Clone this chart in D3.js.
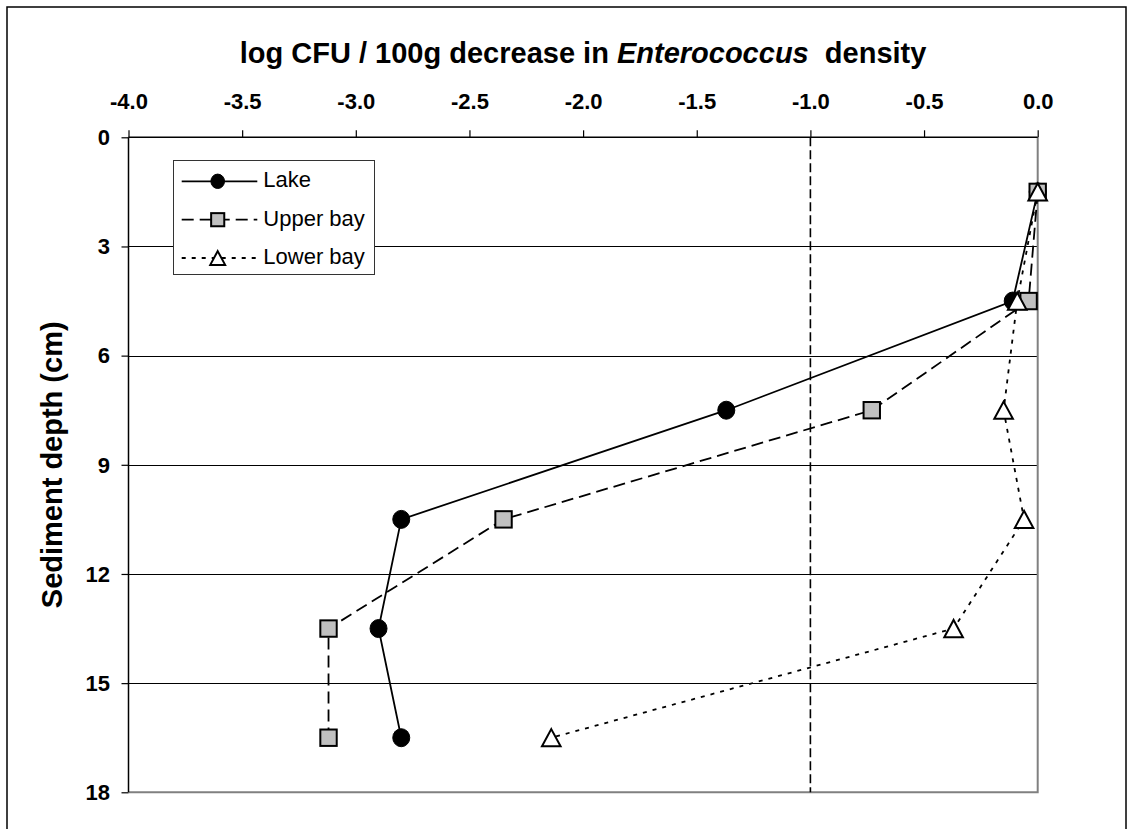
<!DOCTYPE html>
<html>
<head>
<meta charset="utf-8">
<script src="https://cdn.jsdelivr.net/npm/d3@7"></script>
<style>
  html, body { margin: 0; padding: 0; background: #fff; }
  svg { display: block; }
  text { font-family: "Liberation Sans", Arial, sans-serif; fill: #000; }
</style>
</head>
<body>
<svg id="chart" width="1131" height="829"></svg>
<script>
// ---------- data ----------
const depths = [1.5, 4.5, 7.5, 10.5, 13.5, 16.5];
const lake   = [0.0, -0.11, -1.37, -2.80, -2.90, -2.80];
const upper  = [0.0, -0.04, -0.73, -2.35, -3.12, -3.12];
const lower  = [0.0, -0.09, -0.15, -0.06, -0.37, -2.14];
const seriesNames = ["Lake", "Upper bay", "Lower bay"];
const xTicks = [-4.0, -3.5, -3.0, -2.5, -2.0, -1.5, -1.0, -0.5, 0.0];
const yTicks = [0, 3, 6, 9, 12, 15, 18];
const refLine = -1.0;
const titlePre = "log CFU / 100g decrease in ";
const titleItalic = "Enterococcus";
const titlePost = "  density";
const yTitle = "Sediment depth (cm)";

// ---------- layout ----------
const svg = d3.select("#chart");
const L = 128.5, R = 1037.7, T = 137.3, B = 792.3;
const x = d3.scaleLinear().domain([-4, 0]).range([L, R]);
const y = d3.scaleLinear().domain([0, 18]).range([T, B]);

// outer frame
svg.append("rect").attr("x", 7).attr("y", 7).attr("width", 1119).attr("height", 840)
  .attr("fill", "#fff").attr("stroke", "#000").attr("stroke-width", 1.5);

// gridlines
svg.append("g").selectAll("line").data(yTicks.filter(d => d > 0 && d < 18)).join("line")
  .attr("x1", L).attr("x2", R).attr("y1", d => Math.round(y(d)) + 0.5).attr("y2", d => Math.round(y(d)) + 0.5)
  .attr("stroke", "#000").attr("stroke-width", 1);

// plot area border (gray, right & bottom)
svg.append("path")
  .attr("d", `M${L},${B}H${R}V${T}`)
  .attr("fill", "none").attr("stroke", "#808080").attr("stroke-width", 2);

// reference dashed line at -1.0
svg.append("line")
  .attr("x1", x(refLine)).attr("x2", x(refLine)).attr("y1", y(0)).attr("y2", y(18))
  .attr("stroke", "#000").attr("stroke-width", 1.6).attr("stroke-dasharray", "9,4");

// axes
const xAxis = d3.axisTop(x).tickValues(xTicks).tickSize(7).tickSizeOuter(0).tickPadding(21)
  .tickFormat(d => d.toFixed(1));
const gx = svg.append("g").attr("transform", `translate(0,${T})`).call(xAxis);
const yAxis = d3.axisLeft(y).tickValues(yTicks).tickSize(7).tickSizeOuter(0).tickPadding(11.5)
  .tickFormat(d => String(d));
const gy = svg.append("g").attr("transform", `translate(${L},0)`).call(yAxis);
[gx, gy].forEach(g => {
  g.select(".domain").attr("stroke", "#000").attr("stroke-width", 1.5);
  g.selectAll(".tick line").attr("stroke", "#000").attr("stroke-width", 1.2);
  g.selectAll(".tick text").attr("font-family", "Liberation Sans, Arial, sans-serif")
    .attr("font-size", 22).attr("font-weight", "bold").attr("fill", "#000");
});
gx.select(".domain").attr("d", `M${L},0H${R}`);
gy.select(".domain").attr("d", `M0,${T}V${B}`);
gy.selectAll(".tick text").attr("dy", "0.33em");

// titles
const tt = svg.append("text").attr("x", (L + R) / 2).attr("y", 63)
  .attr("text-anchor", "middle").attr("font-size", 29).attr("font-weight", "bold")
  .attr("xml:space", "preserve").style("white-space", "pre");
tt.append("tspan").text(titlePre);
tt.append("tspan").attr("font-style", "italic").text(titleItalic);
tt.append("tspan").text(titlePost);

svg.append("text").attr("transform", `translate(61.5,${(T + B) / 2}) rotate(-90)`)
  .attr("text-anchor", "middle").attr("font-size", 29).attr("font-weight", "bold")
  .text(yTitle);

// ---------- series ----------
const styles = [
  { values: lake,  dash: null,  marker: "circle" },
  { values: upper, dash: "12,6", marker: "square" },
  { values: lower, dash: "4,6",  marker: "triangle" }
];

function drawMarker(g, type, cx, cy, s) {
  if (type === "circle") {
    g.append("ellipse").attr("cx", cx).attr("cy", cy).attr("rx", 8.5 * s).attr("ry", 9 * s)
      .attr("fill", "#000").attr("stroke", "#000").attr("stroke-width", 1);
  } else if (type === "square") {
    const h = 8.2 * s;
    g.append("rect").attr("x", cx - h).attr("y", cy - h).attr("width", 2 * h).attr("height", 2 * h)
      .attr("fill", "#C0C0C0").attr("stroke", "#000").attr("stroke-width", 2);
  } else {
    const w = 9.3 * s, hh = 8.6 * s;
    g.append("path").attr("d", `M${cx},${cy - hh}L${cx + w},${cy + hh}L${cx - w},${cy + hh}Z`)
      .attr("fill", "#fff").attr("stroke", "#000").attr("stroke-width", 2).attr("stroke-linejoin", "miter");
  }
}

const line = d3.line().x(d => x(d[0])).y(d => y(d[1])).curve(d3.curveLinear);
styles.forEach(st => {
  const g = svg.append("g");
  const pts = st.values.map((v, i) => [v, depths[i]]);
  const p = g.append("path").attr("d", line(pts)).attr("fill", "none")
    .attr("stroke", "#000").attr("stroke-width", 1.8);
  if (st.dash) p.attr("stroke-dasharray", st.dash);
  pts.forEach(d => drawMarker(g, st.marker, x(d[0]), y(d[1]), 1));
});

// ---------- legend ----------
const lg = svg.append("g");
lg.append("rect").attr("x", 173.5).attr("y", 160.5).attr("width", 201).attr("height", 114)
  .attr("fill", "#fff").attr("stroke", "#333").attr("stroke-width", 1);
const rowY = [181.3, 219.7, 258];
styles.forEach((st, i) => {
  const ln = lg.append("line").attr("x1", 181.7).attr("x2", 257.3).attr("y1", rowY[i]).attr("y2", rowY[i])
    .attr("stroke", "#000").attr("stroke-width", 1.8);
  if (st.dash) ln.attr("stroke-dasharray", st.dash);
  drawMarker(lg, st.marker, 217.7, rowY[i], 0.8);
  lg.append("text").attr("x", 263.3).attr("y", rowY[i] + 6).attr("font-size", 22)
    .text(seriesNames[i]);
});
</script>
</body>
</html>
